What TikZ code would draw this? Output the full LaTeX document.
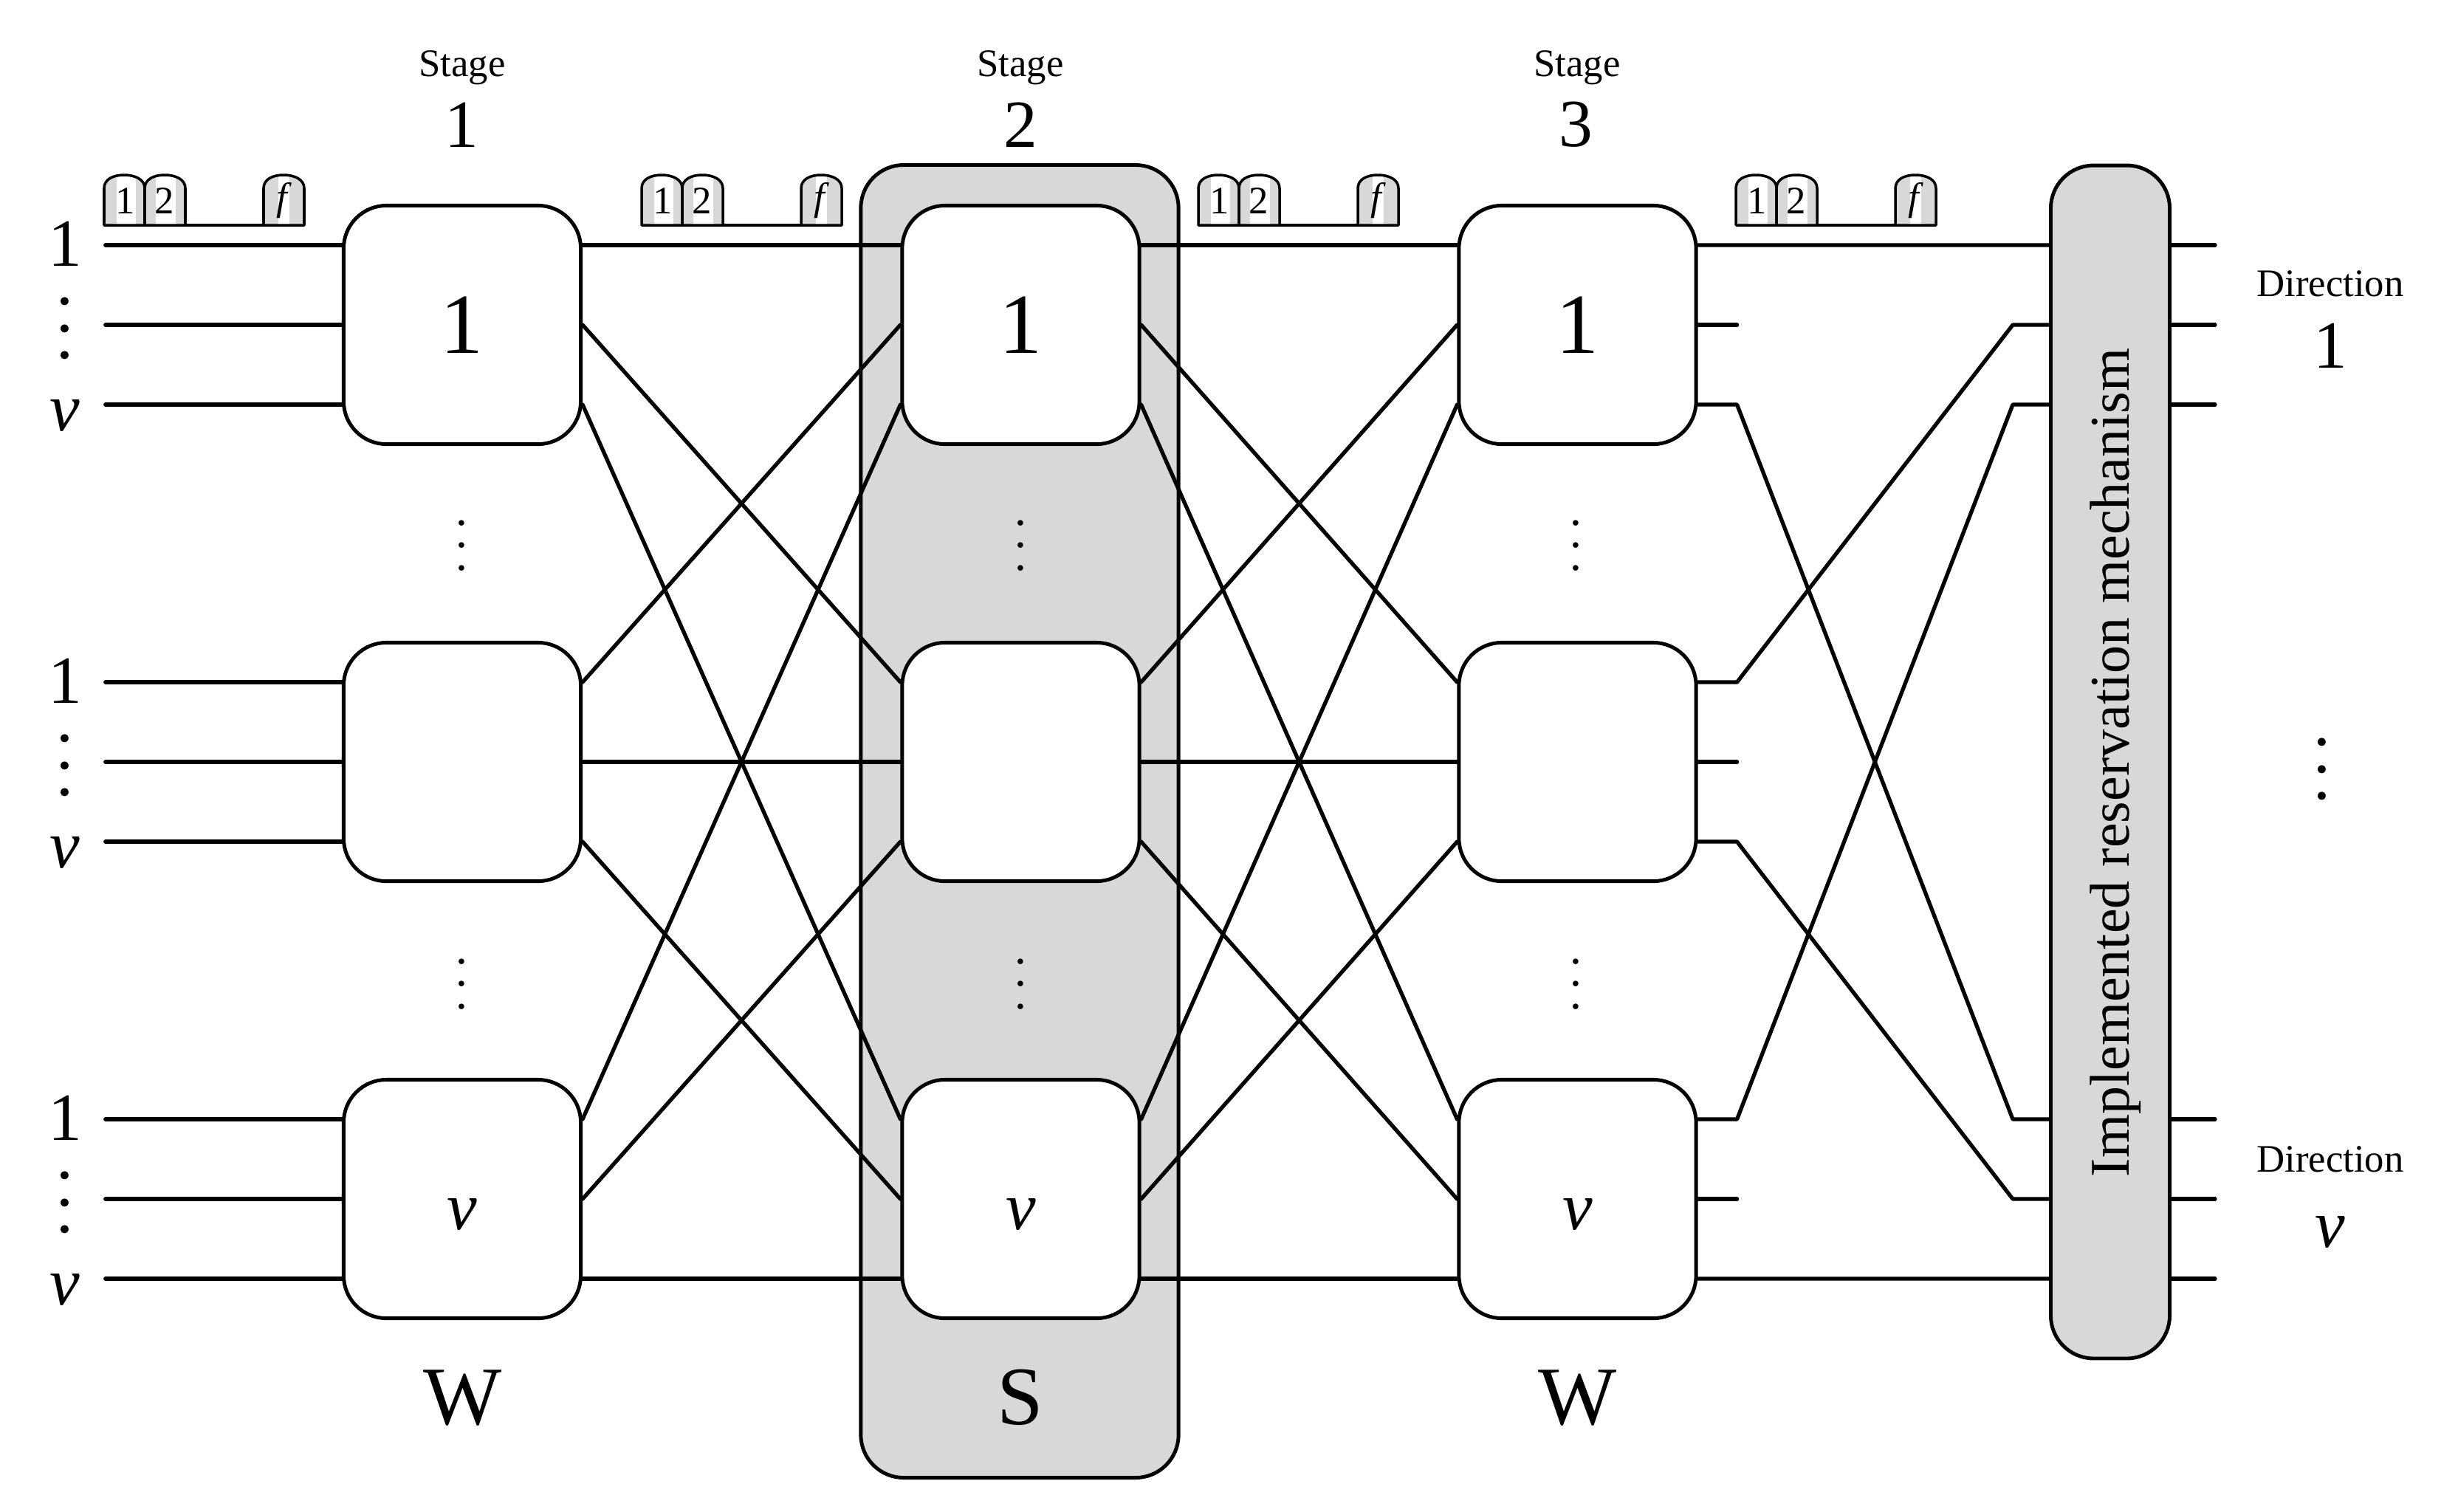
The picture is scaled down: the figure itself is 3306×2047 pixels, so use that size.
\documentclass[tikz,border=0pt]{standalone}
\usepackage{fontspec}
\setmainfont{Liberation Serif}
\pgfdeclarelayer{shade}
\pgfdeclarelayer{wires}
\pgfsetlayers{shade,wires,main}
\definecolor{panel}{HTML}{D8D8D8}
\newcommand{\fsz}[1]{\fontsize{#1}{#1}\selectfont}
\newcommand{\dotcol}[2]{\vbox{\fsz{#1}\baselineskip=#2\lineskiplimit=-100pt\hbox{.}\hbox{.}\hbox{.}}}
\newcommand{\boxv}{\raisebox{-11.7pt}[0pt][0pt]{\fsz{26}\textit{v}}}
\tikzset{
  swbox/.style={draw=black,fill=white,line width=1.4pt,rounded corners=0.58cm,minimum width=3.21cm,minimum height=3.23cm,inner sep=0pt,font=\fsz{33}},
  panelbox/.style={draw=black,fill=panel,line width=1.4pt,rounded corners=0.58cm,inner sep=0pt},
  wire/.style={line width=1.5pt,line cap=round,line join=round},
  lab/.style={inner sep=0pt,anchor=center},
  stagelab/.style={lab,font=\fsz{15}},
  numlab/.style={lab,font=\fsz{26}},
  biglab/.style={lab,font=\fsz{32}},
  pkt/.style={draw=black,line width=1pt,line join=round},
  pktlab/.style={lab,font=\fsz{15}},
  pack/.pic={
    \foreach \px/\wa/\wb in {0/17/43,55/15/42,216/20/35}{
      \begin{scope}
        \clip (\px,0) -- (\px,-50) .. controls (\px,-62) and (\px+12,-68) .. (\px+27,-68) .. controls (\px+42,-68) and (\px+55,-62) .. (\px+55,-50) -- (\px+55,0) -- cycle;
        \fill[panel] (\px,-70) rectangle (\px+55,0);
        \fill[white] (\px+\wa,-70) rectangle (\px+\wb,0);
      \end{scope}
      \draw[pkt] (\px,0) -- (\px,-50) .. controls (\px,-62) and (\px+12,-68) .. (\px+27,-68) .. controls (\px+42,-68) and (\px+55,-62) .. (\px+55,-50) -- (\px+55,0) -- cycle;
    }
    \draw[pkt] (110,0) -- (216,0);
    \node[pktlab] (-one) at (29,-33) {1};
    \node[pktlab] (-two) at (82,-33) {2};
    \node[pktlab] (-eff) at (244,-33) {\textit{f}};
  }
}
\begin{document}
\begin{tikzpicture}[x=0.01cm,y=-0.01cm]
\begin{pgfonlayer}{shade}
  \fill[white] (0,0) rectangle (3306,2047);
\end{pgfonlayer}
\useasboundingbox (0,0) rectangle (3306,2047);

% shaded stage panel and reservation block
\begin{pgfonlayer}{shade}
  \node[panelbox,minimum width=4.30cm,minimum height=17.77cm] (panelS) at (1381,1112.5) {};
\end{pgfonlayer}
\node[panelbox,minimum width=1.61cm,minimum height=16.15cm] (mech) at (2858,1032) {};
\node[lab,rotate=90,font=\fsz{21.6}] (mechtext) at (2865,1033) {Implemented reservation mechanism};

% switch boxes
\node[swbox] (a1) at (626,440) {1};
\node[swbox] (a2) at (626,1032) {};
\node[swbox] (a3) at (626,1624) {\boxv};
\node[swbox] (b1) at (1382.5,440) {1};
\node[swbox] (b2) at (1382.5,1032) {};
\node[swbox] (b3) at (1382.5,1624) {\boxv};
\node[swbox] (c1) at (2136.5,440) {1};
\node[swbox] (c2) at (2136.5,1032) {};
\node[swbox] (c3) at (2136.5,1624) {\boxv};

% ports on the boxes
\foreach \n in {a,b,c}{
  \foreach \r in {1,2,3}{
    \coordinate (\n\r L1) at ([yshift=1.08cm]\n\r.west);
    \coordinate (\n\r L2) at (\n\r.west);
    \coordinate (\n\r L3) at ([yshift=-1.08cm]\n\r.west);
    \coordinate (\n\r R1) at ([yshift=1.08cm]\n\r.east);
    \coordinate (\n\r R2) at (\n\r.east);
    \coordinate (\n\r R3) at ([yshift=-1.08cm]\n\r.east);
  }
}

\begin{pgfonlayer}{wires}
  % inputs
  \foreach \r in {1,2,3}{
    \foreach \p in {1,2,3}{
      \coordinate (in\r\p) at ([xshift=-3.20cm]a\r L\p);
      \draw[wire] (in\r\p) -- (a\r L\p);
    }
  }
  % stage interconnections
  \foreach \s/\t in {a/b,b/c}{
    \draw[wire] (\s1R1) -- (\t1L1);
    \draw[wire] (\s1R2) -- (\t2L1);
    \draw[wire] (\s1R3) -- (\t3L1);
    \draw[wire] (\s2R1) -- (\t1L2);
    \draw[wire] (\s2R2) -- (\t2L2);
    \draw[wire] (\s2R3) -- (\t3L2);
    \draw[wire] (\s3R1) -- (\t1L3);
    \draw[wire] (\s3R2) -- (\t2L3);
    \draw[wire] (\s3R3) -- (\t3L3);
  }
  % stage 3 to reservation mechanism
  \foreach \r in {1,2,3}{
    \foreach \p in {1,2,3}{
      \coordinate (st\r\p) at ([xshift=0.53cm]c\r R\p);
    }
  }
  \foreach \i/\yy in {1/332,2/440,3/548,4/1516,5/1624,6/1732}{
    \coordinate (mi\i) at (mech.west |- 0,\yy);
    \coordinate (mk\i) at (2726,\yy);
    \coordinate (mo\i) at (mech.east |- 0,\yy);
    \coordinate (me\i) at (3000,\yy);
    \draw[wire] (mo\i) -- (me\i);
  }
  \draw[wire] (c1R1) -- (mi1);
  \draw[wire] (c1R2) -- (st12);
  \draw[wire] (c1R3) -- (st13) -- (mk4) -- (mi4);
  \draw[wire] (c2R1) -- (st21) -- (mk2) -- (mi2);
  \draw[wire] (c2R2) -- (st22);
  \draw[wire] (c2R3) -- (st23) -- (mk5) -- (mi5);
  \draw[wire] (c3R1) -- (st31) -- (mk3) -- (mi3);
  \draw[wire] (c3R2) -- (st32);
  \draw[wire] (c3R3) -- (mi6);
\end{pgfonlayer}

% packets
\pic (p1) at (141,305) {pack};
\pic (p2) at (869,305) {pack};
\pic (p3) at (1623,305) {pack};
\pic (p4) at (2351,305) {pack};

% stage titles
\node[stagelab] (s1t) at (626,92) {Stage};
\node[numlab] (s1n) at (625,169) {1};
\node[stagelab] (s2t) at (1382,92) {Stage};
\node[numlab] (s2n) at (1382,169) {2};
\node[stagelab] (s3t) at (2136,92) {Stage};
\node[numlab] (s3n) at (2134,169) {3};

% stage types
\node[biglab] (tw1) at (627,1893) {W};
\node[biglab] (ts) at (1382,1893) {S};
\node[biglab] (tw3) at (2137,1893) {W};

% left labels
\foreach \r/\yy in {1/0,2/592,3/1184}{
  \node[numlab] (l\r a) at (88,330+\yy) {1};
  \node[lab] (l\r d) at (88,445+\yy) {\dotcol{26}{10.4pt}};
  \node[numlab] (l\r b) at (88,563+\yy) {\textit{v}};
}

% vertical ellipses between boxes
\foreach \n/\xx in {1/625,2/1382,3/2134}{
  \node[lab] (eu\n) at (\xx,739) {\dotcol{18}{8.7pt}};
  \node[lab] (el\n) at (\xx,1333) {\dotcol{18}{8.7pt}};
}

% direction labels
\node[stagelab] (d1t) at (3156,384) {Direction};
\node[numlab] (d1n) at (3156,468) {1};
\node[lab] (dd) at (3145,1042) {\dotcol{26}{10.4pt}};
\node[stagelab] (d2t) at (3156,1570) {Direction};
\node[numlab] (d2n) at (3156,1669) {\textit{v}};
\end{tikzpicture}
\end{document}
